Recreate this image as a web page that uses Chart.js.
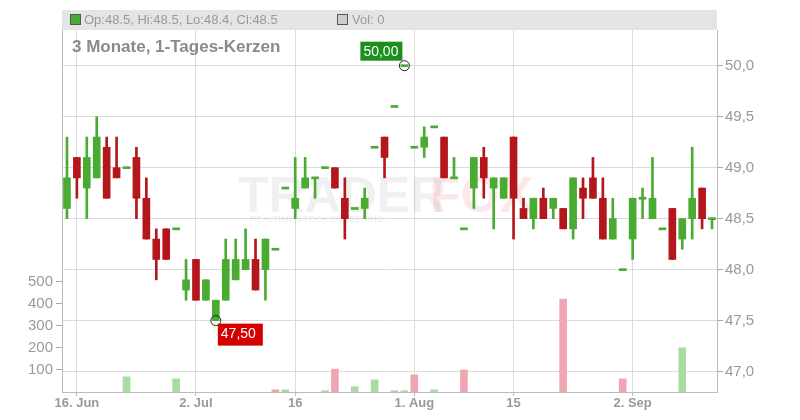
<!DOCTYPE html>
<html>
<head>
<meta charset="utf-8">
<script src="https://cdn.jsdelivr.net/npm/chart.js@4.4.0/dist/chart.umd.min.js"></script>
<style>
  html, body { margin: 0; padding: 0; background: #fff; }
  #wrap { width: 800px; height: 420px; }
</style>
</head>
<body>
<div id="wrap"><canvas id="kurs"></canvas></div>
<script>
// ================= DATEN =================
const tage = [
  "13.06","16.06","17.06","18.06","19.06","20.06","23.06","24.06","25.06","26.06","27.06",
  "30.06","01.07","02.07","03.07","04.07","07.07","08.07","09.07","10.07","11.07",
  "14.07","15.07","16.07","17.07","18.07","21.07","22.07","23.07","24.07","25.07",
  "28.07","29.07","30.07","31.07","01.08","04.08","05.08","06.08","07.08","08.08",
  "11.08","12.08","13.08","14.08","15.08","18.08","19.08","20.08","21.08","22.08",
  "25.08","26.08","27.08","28.08","29.08","01.09","02.09","03.09","04.09","05.09",
  "08.09","09.09","10.09","11.09","12.09"
];
const achsenTage = { "16.06": "16. Jun", "02.07": "2. Jul", "16.07": "16", "01.08": "1. Aug", "15.08": "15", "02.09": "2. Sep" };

const eroeffnung = [48.6,49.1,48.8,48.9,49.2,49.0,49.0,49.1,48.7,48.3,48.4,48.4,47.8,48.1,47.7,47.5,47.7,47.9,48.0,48.1,48.0,
  48.2,48.8,48.6,48.8,48.9,49.0,49.0,48.7,48.6,48.6,49.2,49.3,49.6,50.0,49.2,49.2,49.4,49.3,48.9,48.4,
  48.8,49.1,48.8,48.7,49.3,48.6,48.5,48.7,48.6,48.6,48.4,48.8,48.9,48.7,48.3,48.0,48.3,48.7,48.5,48.4,
  48.6,48.3,48.5,48.8,48.5];
const hoch = [49.3,49.1,49.3,49.5,49.3,49.3,49.0,49.2,48.9,48.4,48.4,48.4,48.1,48.1,47.9,47.7,48.3,48.3,48.4,48.3,48.3,
  48.2,48.8,49.1,49.1,48.9,49.0,49.0,48.9,48.6,48.8,49.2,49.3,49.6,50.0,49.2,49.4,49.4,49.3,49.1,48.4,
  49.1,49.2,48.9,48.9,49.3,48.7,48.7,48.8,48.7,48.6,48.9,48.9,49.1,48.9,48.7,48.0,48.7,48.8,49.1,48.4,
  48.6,48.5,49.2,48.8,48.5];
const tief = [48.5,48.7,48.5,48.9,48.7,48.9,49.0,48.5,48.3,47.9,48.1,48.4,47.7,47.7,47.7,47.5,47.7,47.9,48.0,47.8,47.7,
  48.2,48.8,48.5,48.8,48.7,49.0,48.8,48.3,48.6,48.5,49.2,48.9,49.6,50.0,49.2,49.1,49.4,48.9,48.9,48.4,
  48.6,48.7,48.4,48.7,48.3,48.5,48.4,48.5,48.5,48.4,48.3,48.5,48.7,48.3,48.3,48.0,48.1,48.5,48.5,48.4,
  48.1,48.2,48.3,48.4,48.4];
const schluss = [48.9,48.9,49.1,49.3,48.7,48.9,49.0,48.7,48.3,48.1,48.1,48.4,47.9,47.7,47.9,47.7,48.1,48.1,48.1,47.8,48.3,
  48.2,48.8,48.7,48.9,48.9,49.0,48.8,48.5,48.6,48.7,49.2,49.1,49.6,50.0,49.2,49.3,49.4,48.9,48.9,48.4,
  49.1,48.9,48.9,48.9,48.7,48.5,48.7,48.5,48.7,48.4,48.9,48.7,48.7,48.3,48.5,48.0,48.7,48.7,48.7,48.4,
  48.1,48.5,48.7,48.5,48.5];
const volumen = [null,null,null,null,null,null,69,null,null,null,null,60,null,null,null,null,null,null,null,null,null,
  10,10,null,null,null,6,104,null,24,null,55,null,6,6,78,null,10,null,null,100,
  null,null,null,null,null,null,null,null,null,422,null,null,null,null,null,60,null,null,null,null,
  null,201,null,null,null];
const volumenSteigend = [1,1,1,1,1,1,1,1,1,1,1,1,1,1,1,1,1,1,1,1,1,
  0,1,1,1,1,1,0,1,1,1,1,1,1,1,0,1,1,0,1,0,
  1,1,1,1,1,0,1,1,1,0,1,1,1,1,1,0,1,1,1,1,
  1,1,1,1,1];
const kopfzeile = "Op:48.5, Hi:48.5, Lo:48.4, Cl:48.5";

// ================= FARBEN =================
const GRUEN = "#4aab33";
const ROT = "#b3161b";
const GRAU = "#9a9a9a";
const SCHRIFT = "'Liberation Sans', Arial, sans-serif";

const steigt = schluss.map((c, i) => c >= eroeffnung[i]);
const koerper = eroeffnung.map((o, i) => {
  const a = Math.min(o, schluss[i]), b = Math.max(o, schluss[i]);
  return a === b ? [a - 0.01, b + 0.01] : [a, b];
});
const dochte = hoch.map((h, i) => [tief[i], h]);

const idxHoch = hoch.indexOf(Math.max(...hoch));
const idxTief = tief.indexOf(Math.min(...tief));

function fmt(v, n) { return v.toFixed(n).replace(".", ","); }

// ================= PLUGIN: KOPF, WASSERZEICHEN, MARKEN =================
const deko = {
  id: "deko",
  beforeDatasetsDraw(chart) {
    const ctx = chart.ctx, a = chart.chartArea;
    ctx.save();
    ctx.fillStyle = "#e4e4e4";
    ctx.fillRect(a.left, 10, a.right - a.left, 20);
    ctx.font = "bold 50px " + SCHRIFT;
    ctx.textBaseline = "alphabetic";
    ctx.fillStyle = "rgba(0,0,0,0.06)";
    ctx.fillText("TRADER", 238, 212);
    ctx.fillStyle = "rgba(230,60,70,0.12)";
    ctx.fillText("FOX", 430, 212);
    ctx.font = "9px " + SCHRIFT;
    ctx.fillStyle = "rgba(0,0,0,0.08)";
    ctx.fillText("REALTIME STOCK SCREENING", 250, 222);
    ctx.restore();
  },
  afterDatasetsDraw(chart) {
    const ctx = chart.ctx, a = chart.chartArea;
    const xs = chart.scales.x, ys = chart.scales.y;
    ctx.save();
    // Kopfzeile
    ctx.font = "13px " + SCHRIFT;
    ctx.textBaseline = "middle";
    ctx.fillStyle = GRUEN;
    ctx.fillRect(a.left + 8, 14, 10, 10);
    ctx.strokeStyle = "#555";
    ctx.lineWidth = 1;
    ctx.strokeRect(a.left + 8.5, 14.5, 10, 10);
    ctx.fillStyle = GRAU;
    ctx.fillText(kopfzeile, a.left + 22, 20);
    ctx.fillStyle = "#ccc";
    ctx.fillRect(a.left + 275, 14, 10, 10);
    ctx.strokeRect(a.left + 275.5, 14.5, 10, 10);
    ctx.fillStyle = GRAU;
    ctx.fillText("Vol: 0", a.left + 290, 20);
    // Titel
    ctx.font = "bold 17px " + SCHRIFT;
    ctx.fillStyle = "#8a8a8a";
    ctx.fillText("3 Monate, 1-Tages-Kerzen", a.left + 10, 47);
    // Hoch-Marke
    const hx = xs.getPixelForValue(idxHoch), hy = ys.getPixelForValue(hoch[idxHoch]);
    ctx.beginPath(); ctx.arc(hx, hy, 5, 0, Math.PI * 2);
    ctx.strokeStyle = "#222"; ctx.stroke();
    ctx.font = "14px " + SCHRIFT;
    ctx.fillStyle = "#1a8f1a";
    ctx.fillRect(hx - 44, hy - 24, 42, 19);
    ctx.fillStyle = "#fff";
    ctx.fillText(fmt(hoch[idxHoch], 2), hx - 41, hy - 14);
    // Tief-Marke
    const tx = xs.getPixelForValue(idxTief), ty = ys.getPixelForValue(tief[idxTief]);
    ctx.beginPath(); ctx.arc(tx, ty, 5, 0, Math.PI * 2);
    ctx.strokeStyle = "#222"; ctx.stroke();
    ctx.fillStyle = "#d40000";
    ctx.fillRect(tx + 2, ty + 3, 45, 22);
    ctx.fillStyle = "#fff";
    ctx.fillText(fmt(tief[idxTief], 2), tx + 5, ty + 14);
    ctx.restore();
  }
};

// ================= DIAGRAMM =================
new Chart(document.getElementById("kurs"), {
  type: "bar",
  data: {
    labels: tage,
    datasets: [
      {
        label: "Volumen",
        data: volumen,
        yAxisID: "yVol",
        backgroundColor: volumenSteigend.map(s => s ? "#a9dca2" : "#f0a6b0"),
        barThickness: 7,
        order: 3
      },
      {
        label: "Docht",
        data: dochte,
        yAxisID: "y",
        backgroundColor: steigt.map(s => s ? GRUEN : ROT),
        barThickness: 2,
        grouped: false,
        order: 2
      },
      {
        label: "Kerze",
        data: koerper,
        yAxisID: "y",
        backgroundColor: steigt.map(s => s ? GRUEN : ROT),
        barThickness: 7,
        grouped: false,
        order: 1
      }
    ]
  },
  options: {
    responsive: true,
    maintainAspectRatio: false,
    animation: false,
    layout: { padding: { top: 30, right: 0, left: 0, bottom: 0 } },
    plugins: { legend: { display: false }, tooltip: { enabled: false } },
    datasets: { bar: { grouped: false } },
    scales: {
      x: {
        offset: true,
        grid: { color: "#dcdcdc", offset: false, drawTicks: true, tickLength: 4, tickColor: "#bbb" },
        border: { color: "#bbb" },
        afterBuildTicks(scale) {
          scale.ticks = scale.ticks.filter(t => achsenTage[tage[t.value]]);
        },
        ticks: {
          autoSkip: false,
          maxRotation: 0,
          color: GRAU,
          font: { family: SCHRIFT, size: 13, weight: "bold" },
          padding: 0,
          callback: (v) => achsenTage[tage[v]] || ""
        },
        afterFit(s) { s.height = 28; }
      },
      y: {
        position: "right",
        min: 46.8,
        max: 50.35,
        grid: { color: "#dcdcdc", tickLength: 6, tickColor: "#aaa" },
        border: { color: "#bbb" },
        afterBuildTicks(scale) {
          scale.ticks = [47, 47.5, 48, 48.5, 49, 49.5, 50].map(v => ({ value: v }));
        },
        ticks: {
          color: GRAU,
          font: { family: SCHRIFT, size: 15 },
          padding: 2,
          callback: (v) => fmt(v, 1)
        },
        afterFit(s) { s.width = 83; }
      },
      yVol: {
        position: "left",
        min: 0,
        max: 1645,
        grid: { drawOnChartArea: false, tickLength: 6, tickColor: "#aaa" },
        border: { color: "#bbb" },
        afterBuildTicks(scale) {
          scale.ticks = [100, 200, 300, 400, 500].map(v => ({ value: v }));
        },
        ticks: {
          color: GRAU,
          font: { family: SCHRIFT, size: 15 },
          padding: 3
        },
        afterFit(s) { s.width = 62; }
      }
    }
  },
  plugins: [deko]
});
</script>
</body>
</html>
